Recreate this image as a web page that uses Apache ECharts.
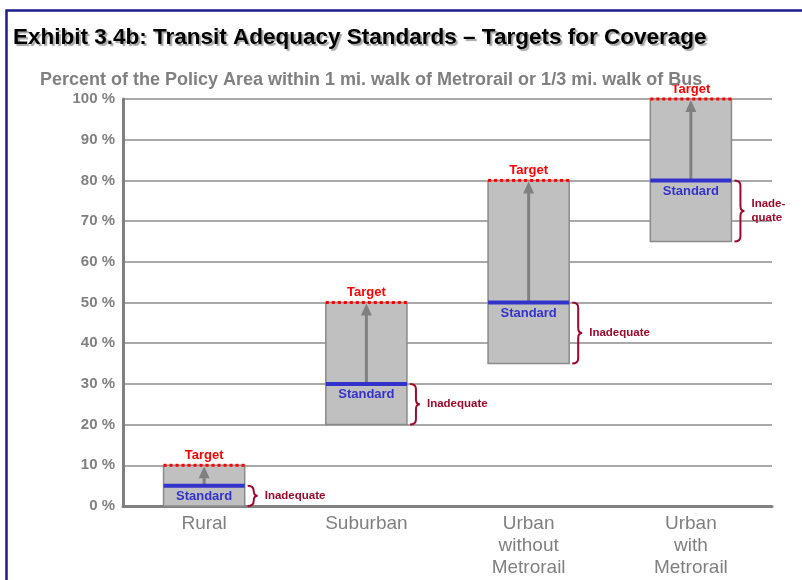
<!DOCTYPE html>
<html lang="en">
<head>
    <meta charset="UTF-8">
    <title>Transit Adequacy Standards</title>
    <script src="https://cdn.jsdelivr.net/npm/echarts@6/dist/echarts.min.js"></script>
    <style>
        html, body { margin: 0; padding: 0; background: #fff; }
        #main { width: 802px; height: 580px; }
    </style>
</head>
<body>
<div id="main"></div>
<script>
    var categories = ['Rural', 'Suburban', 'Urban\nwithout\nMetrorail', 'Urban\nwith\nMetrorail'];
    var boxLow = [0, 20, 35, 65];
    var standard = [5, 30, 50, 80];
    var target = [10, 50, 80, 100];
    var gapLabels = ['Inadequate', 'Inadequate', 'Inadequate', 'Inade-\nquate'];
    var yTicks = [0, 10, 20, 30, 40, 50, 60, 70, 80, 90, 100];

    var FONT = '"Liberation Sans", Arial, sans-serif';
    var BLUE = '#3333cc', RED = '#ff0000', DARKRED = '#9c0a2c', GREY = '#808080';

    function bracePath(x, yTop, yBot) {
        var d = 6, tip = 10;
        var yMid = (yTop + yBot) / 2;
        var r = Math.min(5, (yBot - yTop) / 4);
        return 'M' + x + ' ' + yTop +
            ' Q' + (x + d) + ' ' + yTop + ' ' + (x + d) + ' ' + (yTop + r) +
            ' L' + (x + d) + ' ' + (yMid - r) +
            ' Q' + (x + d) + ' ' + yMid + ' ' + (x + tip) + ' ' + yMid +
            ' Q' + (x + d) + ' ' + yMid + ' ' + (x + d) + ' ' + (yMid + r) +
            ' L' + (x + d) + ' ' + (yBot - r) +
            ' Q' + (x + d) + ' ' + yBot + ' ' + x + ' ' + yBot;
    }

    function renderItem(params, api) {
        var i = params.dataIndex;
        var lo = api.coord([i, api.value(1)]);
        var st = api.coord([i, api.value(2)]);
        var tg = api.coord([i, api.value(3)]);
        var bw = api.size([1, 0])[0] * 0.5;
        var cx = lo[0];
        var x0 = cx - bw / 2, x1 = cx + bw / 2;
        var braceX = x1 + 3;
        return {
            type: 'group',
            children: [
                {
                    type: 'rect',
                    shape: { x: x0, y: tg[1], width: bw, height: lo[1] - tg[1] },
                    style: { fill: '#c0c0c0', stroke: '#8a8a8a', lineWidth: 1.5 }
                },
                {
                    type: 'line',
                    shape: { x1: cx, y1: st[1], x2: cx, y2: tg[1] + 10 },
                    style: { stroke: GREY, lineWidth: 3 }
                },
                {
                    type: 'polygon',
                    shape: { points: [[cx, tg[1] + 1], [cx - 5.5, tg[1] + 13], [cx + 5.5, tg[1] + 13]] },
                    style: { fill: GREY }
                },
                {
                    type: 'line',
                    shape: { x1: x0, y1: st[1], x2: x1, y2: st[1] },
                    style: { stroke: BLUE, lineWidth: 4 }
                },
                {
                    type: 'line',
                    shape: { x1: x0, y1: tg[1], x2: x1, y2: tg[1] },
                    style: { stroke: RED, lineWidth: 3, lineDash: [3, 3] }
                },
                {
                    type: 'text',
                    style: {
                        x: cx, y: tg[1] - 10, text: 'Target', fill: RED,
                        font: 'bold 13px ' + FONT, align: 'center', verticalAlign: 'middle'
                    }
                },
                {
                    type: 'text',
                    style: {
                        x: cx, y: st[1] + 11, text: 'Standard', fill: BLUE,
                        font: 'bold 13px ' + FONT, align: 'center', verticalAlign: 'middle'
                    }
                },
                {
                    type: 'path',
                    shape: { pathData: bracePath(braceX, st[1], lo[1]) },
                    style: { stroke: DARKRED, lineWidth: 2, fill: null }
                },
                {
                    type: 'text',
                    style: {
                        x: braceX + 17, y: (st[1] + lo[1]) / 2, text: gapLabels[i], fill: DARKRED,
                        font: 'bold 11.5px ' + FONT, align: 'left', verticalAlign: 'middle', lineHeight: 14
                    }
                }
            ]
        };
    }

    var chart = echarts.init(document.getElementById('main'));
    chart.setOption({
        backgroundColor: '#fff',
        animation: false,
        title: [
            {
                text: 'Exhibit 3.4b: Transit Adequacy Standards \u2013 Targets for Coverage',
                left: 8, top: 21,
                textStyle: {
                    fontFamily: FONT, fontSize: 22.5, fontWeight: 'bold', color: '#000',
                    textShadowColor: 'rgba(0,0,0,0.35)', textShadowOffsetX: 2, textShadowOffsetY: 2, textShadowBlur: 1
                }
            },
            {
                text: 'Percent of the Policy Area within 1 mi. walk of Metrorail or 1/3 mi. walk of Bus',
                left: 35, top: 66,
                textStyle: { fontFamily: FONT, fontSize: 18, fontWeight: 'bold', color: GREY }
            }
        ],
        graphic: [
            {
                type: 'rect', left: 4, top: 8, silent: true,
                shape: { width: 900, height: 700 },
                style: { fill: null, stroke: '#1c1c8c', lineWidth: 2.5 }
            }
        ],
        grid: { left: 123, right: 30, top: 99, bottom: 74, outerBoundsMode: 'none' },
        xAxis: {
            type: 'category',
            data: categories,
            axisLine: { lineStyle: { color: GREY, width: 3 } },
            axisTick: { show: false },
            axisLabel: { color: GREY, fontFamily: FONT, fontSize: 19, lineHeight: 22, margin: 7 }
        },
        yAxis: {
            type: 'value',
            min: yTicks[0], max: yTicks[yTicks.length - 1], interval: yTicks[1] - yTicks[0],
            axisLine: { show: true, lineStyle: { color: GREY, width: 3 } },
            axisTick: { show: false },
            splitLine: { lineStyle: { color: '#8c8c8c', width: 1.5 } },
            axisLabel: {
                color: GREY, fontFamily: FONT, fontSize: 15, fontWeight: 'bold', margin: 8,
                formatter: '{value} %'
            }
        },
        series: [
            {
                type: 'custom',
                renderItem: renderItem,
                clip: false,
                data: categories.map(function (c, i) {
                    return [i, boxLow[i], standard[i], target[i]];
                })
            }
        ]
    });
</script>
</body>
</html>
